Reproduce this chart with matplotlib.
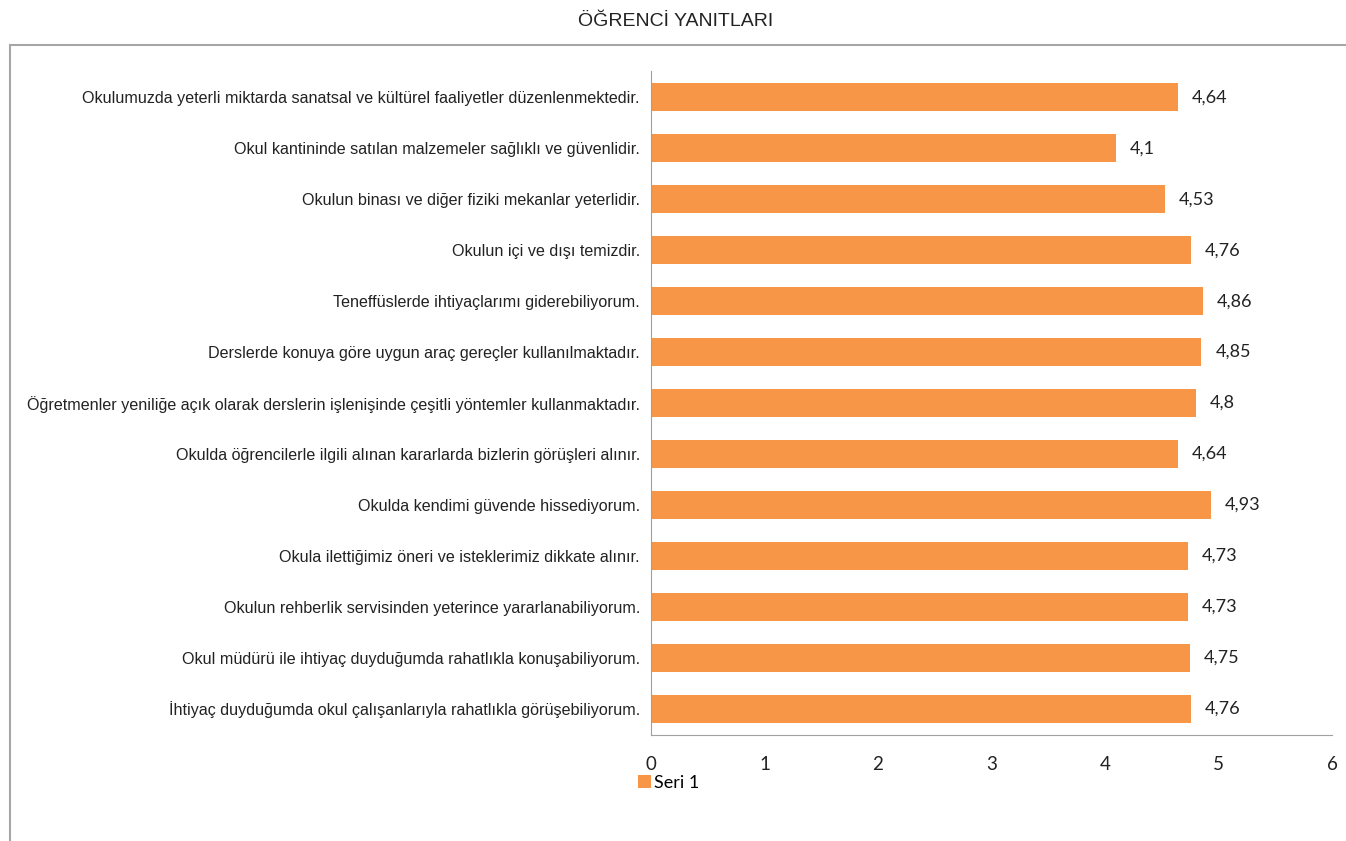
import matplotlib
matplotlib.use("Agg")
import matplotlib.pyplot as plt
from matplotlib.patches import Rectangle

# questions, top to bottom as shown
questions = [
    "Okulumuzda yeterli miktarda sanatsal ve kültürel faaliyetler düzenlenmektedir.",
    "Okul kantininde satılan malzemeler sağlıklı ve güvenlidir.",
    "Okulun binası ve diğer fiziki mekanlar yeterlidir.",
    "Okulun içi ve dışı temizdir.",
    "Teneffüslerde ihtiyaçlarımı giderebiliyorum.",
    "Derslerde konuya göre uygun araç gereçler kullanılmaktadır.",
    "Öğretmenler yeniliğe açık olarak derslerin işlenişinde çeşitli yöntemler kullanmaktadır.",
    "Okulda öğrencilerle ilgili alınan kararlarda bizlerin görüşleri alınır.",
    "Okulda kendimi güvende hissediyorum.",
    "Okula ilettiğimiz öneri ve isteklerimiz dikkate alınır.",
    "Okulun rehberlik servisinden yeterince yararlanabiliyorum.",
    "Okul müdürü ile ihtiyaç duyduğumda rahatlıkla konuşabiliyorum.",
    "İhtiyaç duyduğumda okul çalışanlarıyla rahatlıkla görüşebiliyorum.",
]
scores = [4.64, 4.1, 4.53, 4.76, 4.86, 4.85, 4.8, 4.64, 4.93, 4.73, 4.73, 4.75, 4.76]
x_ticks = [0, 1, 2, 3, 4, 5, 6]
series_name = "Seri 1"

W, H = 1346, 841
fig = plt.figure(figsize=(W / 100, H / 100), dpi=100)

# outer frame (runs off the right and bottom edges)
fig.patches.append(Rectangle((10 / W, -0.1), 1.2, (H - 45) / H + 0.1,
                             transform=fig.transFigure, fill=False,
                             edgecolor="#a6a6a6", linewidth=1.5))

fig.text(676 / W, 1 - 22 / H, "ÖĞRENCİ YANITLARI", ha="center", va="center",
         fontsize=14, family="Liberation Sans", color="#222222")

ax = fig.add_axes([651 / W, 1 - 735 / H, (1332 - 651) / W, (735 - 71) / H])

ypos = list(range(len(questions)))[::-1]
bars = ax.barh(ypos, scores, height=0.55, color="#f79646", label=series_name)

for y, v in zip(ypos, scores):
    txt = f"{v:g}".replace(".", ",")
    ax.annotate(txt, (v, y), xytext=(10, 0), textcoords="offset points",
                va="center", ha="left", fontsize=13, family="Lato", color="#222222")

ax.set_xlim(0, 6)
ax.set_ylim(-0.52, 12.52)
ax.set_xticks(x_ticks)
ax.set_xticklabels([str(t) for t in x_ticks], family="Lato", fontsize=13.5, color="#222222")
ax.set_yticks(ypos)
ax.set_yticklabels(questions, family="Liberation Sans", fontsize=11.6, color="#222222")
ax.tick_params(axis="x", length=0, pad=15)
ax.tick_params(axis="y", length=0, pad=8)

for s in ["top", "right"]:
    ax.spines[s].set_visible(False)
ax.spines["left"].set_color("#a0a0a0")
ax.spines["bottom"].set_color("#a0a0a0")

leg = fig.legend(handles=[bars], labels=[series_name], loc="center",
                 bbox_to_anchor=(669 / W, 1 - 783 / H), frameon=False,
                 prop={"family": "Lato", "size": 13}, handlelength=0.7,
                 handleheight=0.7, handletextpad=0.2)

fig.savefig("out.png", dpi=100, facecolor="white")
